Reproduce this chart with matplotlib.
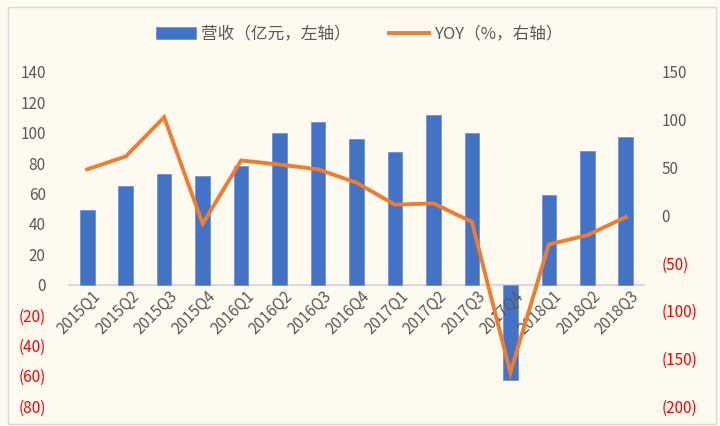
import matplotlib
matplotlib.use('Agg')

import numpy as np
import matplotlib.pyplot as plt
from matplotlib.patches import Rectangle
from matplotlib.ticker import FuncFormatter

plt.rcParams['font.family'] = ['Noto Sans CJK SC', 'DejaVu Sans']

quarters = ['2015Q1', '2015Q2', '2015Q3', '2015Q4', '2016Q1', '2016Q2', '2016Q3', '2016Q4',
            '2017Q1', '2017Q2', '2017Q3', '2017Q4', '2018Q1', '2018Q2', '2018Q3']
revenue = [49.4, 65, 72.5, 71.6, 78.4, 99.7, 107.2, 95.7, 87.2, 112, 99.7, -62.8, 59, 88, 97.5]
yoy = [48, 61.5, 102.6, -9, 57.3, 53, 48, 34, 11, 12.3, -7, -165, -30.7, -21, -2]

bg = '#FFFAF0'
grey = '#595959'

fig = plt.figure(figsize=(7.2, 4.26), dpi=100, facecolor=bg)
fig.patches.append(Rectangle((8/720, 2/426), 708/720, 417/426, transform=fig.transFigure,
                             facecolor='none', edgecolor='#D9D9D9', lw=1))

ax = fig.add_axes([68/720, 1 - 406/426, 577/720, 334/426])
ax.set_facecolor(bg)
x = np.arange(len(quarters))
ax.bar(x, revenue, width=0.38, color='#4472C4', edgecolor='#6F93D6', lw=0.6,
       label='营收（亿元，左轴）', zorder=2)
ax.set_xlim(-0.5, len(quarters) - 0.5)
ax.set_ylim(-80, 140)
ax.set_yticks(np.arange(-80, 141, 20))
ax.yaxis.set_major_formatter(FuncFormatter(lambda v, p: f'({abs(int(v))})' if v < 0 else f'{int(v)}'))
ax.axhline(0, color='#D9D9D9', lw=1.5, zorder=1)
for s in ax.spines.values():
    s.set_visible(False)
ax.tick_params(axis='both', length=0, labelsize=11, colors=grey)
ax.tick_params(axis='y', pad=16)
for lab, v in zip(ax.get_yticklabels(), ax.get_yticks()):
    lab.set_color('red' if v < 0 else grey)
ax.set_xticks(x)
ax.set_xticklabels([])
for i, q in enumerate(quarters):
    ax.text(i + 0.12, -2, q, rotation=45, ha='right', va='top', rotation_mode='anchor',
            fontsize=11, color=grey, zorder=3)

ax2 = ax.twinx()
ax2.plot(x, yoy, color='#ED7D31', lw=2.8, solid_joinstyle='miter', label='YOY（%，右轴）', zorder=3)
ax2.set_ylim(-200, 150)
ax2.set_yticks(np.arange(-200, 151, 50))
ax2.yaxis.set_major_formatter(FuncFormatter(lambda v, p: f'({abs(int(v))})' if v < 0 else f'{int(v)}'))
for s in ax2.spines.values():
    s.set_visible(False)
ax2.tick_params(axis='y', length=0, labelsize=11, colors=grey, pad=12)
for lab, v in zip(ax2.get_yticklabels(), ax2.get_yticks()):
    lab.set_color('red' if v < 0 else grey)

h1, l1 = ax.get_legend_handles_labels()
h2, l2 = ax2.get_legend_handles_labels()
fig.legend(h1 + h2, l1 + l2, loc='center', bbox_to_anchor=(359/720, 1 - 34/426), ncol=2,
           frameon=False, fontsize=12, labelcolor=grey, handlelength=2.4, columnspacing=2.3,
           handletextpad=0.3)

fig.savefig('out.png', dpi=100, facecolor=bg)
